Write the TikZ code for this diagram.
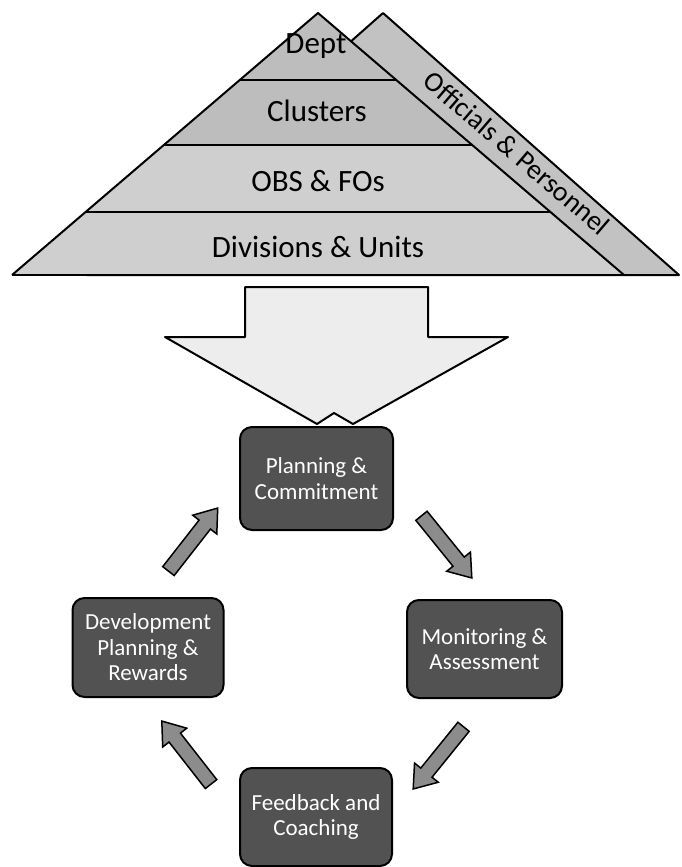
\documentclass[tikz,border=0pt]{standalone}
\usepackage{fontspec}
\setmainfont{Carlito}
\usetikzlibrary{shapes.arrows}
\newcommand{\shaftstrut}{\vrule height 6.5pt depth 6.5pt width 0pt}
\begin{document}
\begin{tikzpicture}[x=1pt,y=-1pt,
  pyrtext/.style={font=\fontsize{31}{34}\selectfont, text=black, inner sep=0pt, anchor=base},
  cyclebox/.style={draw=black, line width=2pt, fill=black!68, rounded corners=12pt, text=white,
    font=\fontsize{23}{25.5}\selectfont, align=center, minimum width=153pt, minimum height=100pt, inner sep=0pt},
  blockarrow/.style={single arrow, draw=black, line width=1.5pt, fill=black!45, minimum height=80pt,
    single arrow head extend=8pt, single arrow tip angle=72, single arrow head indent=0pt,
    inner sep=0pt},
  tierline/.style={line width=2.5pt, draw=black},
  pyredge/.style={line width=2pt, draw=black, line join=round},
  backfill/.style={fill=black!24},
  topfill/.style={fill=black!26},
  lowfill/.style={fill=black!19},
  bigarrow/.style={fill=black!7, draw=black, line width=2pt, line join=round}]
\useasboundingbox (0,0) rectangle (681,867);

% back triangle (Officials & Personnel)
\path[backfill, pyredge, draw] (383,13) -- (679,275) -- (87,275) -- cycle;
% main pyramid tiers
\path[topfill] (318,13) -- (396.3,80) -- (239.7,80) -- cycle;
\path[topfill] (239.7,80) -- (396.3,80) -- (472.2,145) -- (163.8,145) -- cycle;
\path[lowfill] (163.8,145) -- (472.2,145) -- (550.4,212) -- (85.6,212) -- cycle;
\path[lowfill] (85.6,212) -- (550.4,212) -- (624,275) -- (12,275) -- cycle;
\draw[tierline] (239.7,80) -- (396.3,80);
\draw[tierline] (163.8,145) -- (472.2,145);
\draw[tierline] (85.6,212) -- (550.4,212);
\draw[pyredge] (12,275) -- (318,13) -- (624,275);
\draw[pyredge] (12,275) -- (679,275);

\node[pyrtext] (dept) at (316,54) {Dept};
\node[pyrtext] (clusters) at (317,121) {Clusters};
\node[pyrtext] (obs) at (318,191) {OBS \& FOs};
\node[pyrtext] (div) at (318,257) {Divisions \& Units};
\node[font=\fontsize{28}{30}\selectfont, inner sep=0pt, rotate=-40.6] (off) at (517,153) {Officials \& Personnel};

% big downward arrow
\path[bigarrow] (245,287) -- (428,287) -- (428,337) -- (508,337) -- (353,424) -- (334,413)
  -- (317,424) -- (165,337) -- (245,337) -- cycle;

% cycle boxes
\node[cyclebox, minimum height=103pt] (pc) at (316.5,478.5) {Planning \&\\Commitment};
\node[cyclebox, minimum width=155pt, minimum height=98pt] (ma) at (484.5,649) {Monitoring \&\\Assessment};
\node[cyclebox, minimum width=152pt, minimum height=98pt] (fc) at (316,817) {Feedback and\\Coaching};
\node[cyclebox, minimum width=151pt, minimum height=99pt] (dp) at (148,647.5) {Development\\Planning \&\\Rewards};

% cycle arrows
\node[blockarrow, rotate=-51] (a1) at (443.5,543) {\shaftstrut};
\node[blockarrow, rotate=-129] (a2) at (441.5,754) {\shaftstrut};
\node[blockarrow, rotate=128] (a3) at (189.5,756.5) {\shaftstrut};
\node[blockarrow, rotate=52] (a4) at (190,543.5) {\shaftstrut};
\end{tikzpicture}
\end{document}
